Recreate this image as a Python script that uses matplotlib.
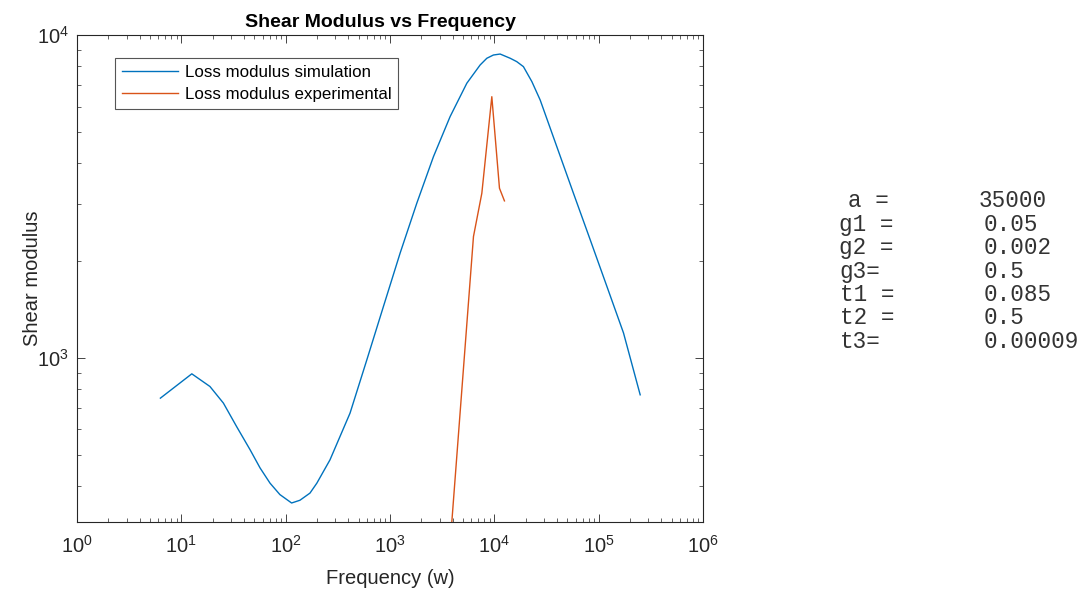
import numpy as np
import matplotlib
matplotlib.use('Agg')
import matplotlib.pyplot as plt
from matplotlib.ticker import LogLocator, NullFormatter

plt.rcParams['font.family'] = ['Liberation Sans', 'DejaVu Sans']
plt.rcParams['mathtext.fontset'] = 'custom'
plt.rcParams['mathtext.rm'] = 'Liberation Sans'
plt.rcParams['mathtext.it'] = 'Liberation Sans'

# simulation
w_sim = [6.3, 12.6, 18.8, 25.3, 34, 45.6, 56.8, 70.8, 88, 114, 137, 171, 199,
         266, 414, 600, 865, 1250, 1807, 2610, 3770, 5450, 7310, 8470, 9800,
         11370, 14200, 16400, 19000, 22900, 27500, 39700, 57300, 83000,
         120000, 173000, 250000]
g_sim = [750, 892, 815, 724, 611, 519, 456, 409, 377, 355, 362, 381, 409,
         483, 674, 986, 1442, 2110, 3013, 4200, 5590, 7090, 8075, 8470, 8670,
         8730, 8470, 8270, 7980, 7170, 6290, 4510, 3235, 2320,
         1663, 1194, 768]

# experimental
w_exp = [3530, 6310, 7590, 9460, 11200, 12500]
g_exp = [200, 2375, 3235, 6440, 3352, 3063]

par_names = ['a =', 'g1 =', 'g2 =', 'g3=', 't1 =', 't2 =', 't3=']
par_vals = ['35000', '0.05', '0.002', '0.5', '0.085', '0.5', '0.00009']

W, H = 1087, 592
fig = plt.figure(figsize=(W/100, H/100), dpi=100)
ax = fig.add_axes([77/W, 1 - 522/H, 626/W, 487/H])

ax.loglog(w_sim, g_sim, color='#0072BD', lw=1.0, label='Loss modulus simulation')
ax.loglog(w_exp, g_exp, color='#D95319', lw=1.0, label='Loss modulus experimental')

ax.set_xlim(1, 1e6)
ax.set_ylim(310, 1e4)
ax.xaxis.set_major_locator(LogLocator(base=10, numticks=10))
ax.xaxis.set_minor_locator(LogLocator(base=10, subs=np.arange(2, 10), numticks=20))
ax.yaxis.set_minor_locator(LogLocator(base=10, subs=np.arange(2, 10), numticks=20))
ax.xaxis.set_minor_formatter(NullFormatter())
ax.yaxis.set_minor_formatter(NullFormatter())

ax.tick_params(which='both', direction='in', top=True, right=True, colors='#262626',
               labelsize=14.5, labelcolor='#262626')
ax.tick_params(axis='x', which='major', pad=9)
ax.tick_params(axis='y', which='major', pad=6)
ax.tick_params(which='major', length=6, width=0.6)
ax.tick_params(which='minor', length=3, width=0.5)
for s in ax.spines.values():
    s.set_color('#262626')
    s.set_linewidth(0.8)

ax.set_title('Shear Modulus vs Frequency', fontsize=14, fontweight='bold', pad=6, x=0.485)
ax.set_xlabel('Frequency (w)', fontsize=14.5, color='#262626', labelpad=9)
ax.set_ylabel('Shear modulus', fontsize=14.5, color='#262626', labelpad=-4)

leg = ax.legend(loc='upper left', bbox_to_anchor=(0.061, 0.953), fontsize=12.2,
                fancybox=False, edgecolor='#555555', handlelength=3.3,
                handletextpad=0.4, borderaxespad=0, framealpha=1,
                borderpad=0.4, labelspacing=0.45)
leg.get_frame().set_linewidth(0.8)

rows_y = [200.7, 224.2, 247.7, 271.1, 294.6, 318, 341.5]
name_x = [848, 839, 839, 839, 840, 840, 840]
val_x = [979, 984, 984, 984, 984, 984, 984]
for nm, vl, yy, nx, vx in zip(par_names, par_vals, rows_y, name_x, val_x):
    fig.text(nx/W, 1 - yy/H, nm, family='Liberation Mono', fontsize=16.3,
             va='center', ha='left', color='#333333')
    fig.text(vx/W, 1 - yy/H, vl, family='Liberation Mono', fontsize=16.3,
             va='center', ha='left', color='#333333')

fig.savefig('out.png', dpi=100)
